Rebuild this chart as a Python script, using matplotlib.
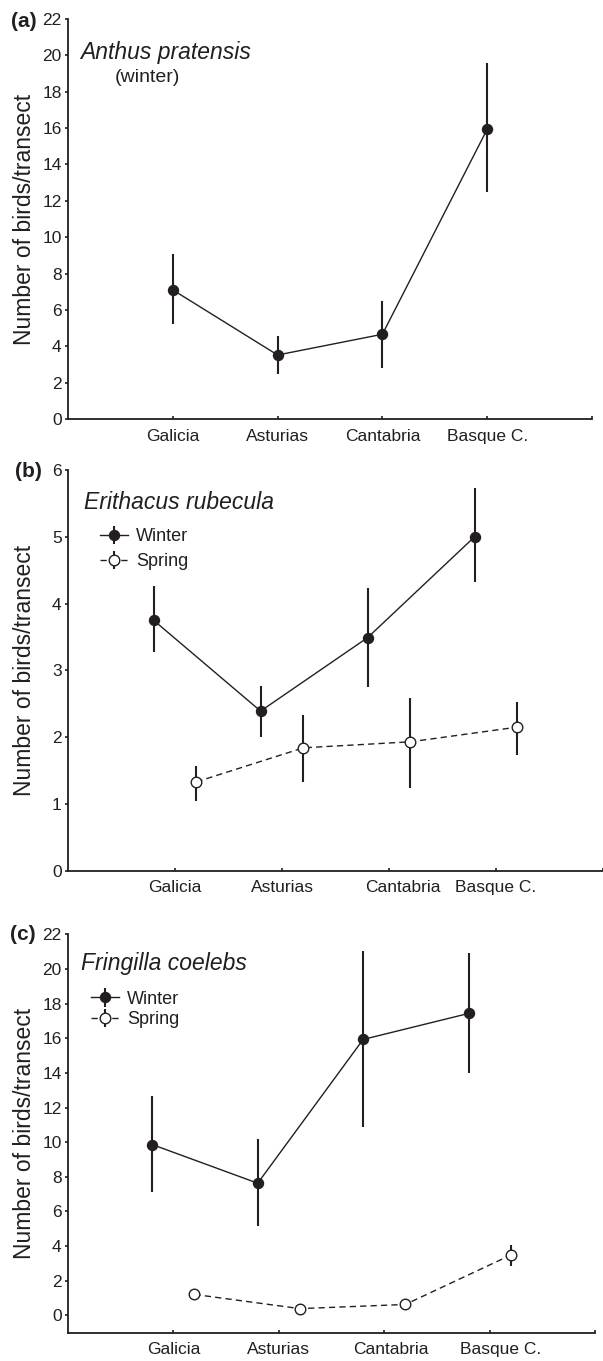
import numpy as np
import matplotlib
matplotlib.use('Agg')
import matplotlib.pyplot as plt
from matplotlib.transforms import ScaledTranslation

plt.rcParams['font.family'] = ['Liberation Sans', 'DejaVu Sans']

INK = '#231f20'
W_PX, H_PX = 603, 1361

regions = ['Galicia', 'Asturias', 'Cantabria', 'Basque C.']

# (a) Anthus pratensis, winter only
anthus_winter = [7.10, 3.52, 4.66, 15.94]
anthus_winter_lo = [5.23, 2.48, 2.83, 12.46]
anthus_winter_hi = [9.08, 4.57, 6.50, 19.60]

# (b) Erithacus rubecula
erithacus_winter = [3.75, 2.39, 3.49, 5.00]
erithacus_winter_lo = [3.27, 2.00, 2.75, 4.33]
erithacus_winter_hi = [4.26, 2.77, 4.24, 5.73]
erithacus_spring = [1.33, 1.84, 1.93, 2.15]
erithacus_spring_lo = [1.05, 1.33, 1.24, 1.73]
erithacus_spring_hi = [1.57, 2.33, 2.58, 2.52]

# (c) Fringilla coelebs
fringilla_winter = [9.86, 7.63, 15.93, 17.43]
fringilla_winter_lo = [7.11, 5.15, 10.87, 13.99]
fringilla_winter_hi = [12.68, 10.18, 21.06, 20.90]
fringilla_spring = [1.21, 0.39, 0.63, 3.48]
fringilla_spring_lo = [1.05, 0.25, 0.48, 2.84]
fringilla_spring_hi = [1.37, 0.53, 0.78, 4.09]


def add_axes_px(fig, left, top, right, bottom):
    """Place an axes from pixel edges of the 603x1361 canvas."""
    return fig.add_axes([left / W_PX, 1 - bottom / H_PX,
                         (right - left) / W_PX, (bottom - top) / H_PX])


def draw_series(ax, xs, mean, lo, hi, filled, label):
    mean = np.asarray(mean)
    err = [mean - np.asarray(lo), np.asarray(hi) - mean]
    ls = '-' if filled else (0, (4.5, 3))
    return ax.errorbar(xs, mean, yerr=err, marker='o', linestyle=ls,
                       color=INK, lw=1.0, elinewidth=1.5, capsize=0,
                       ms=7.2 if filled else 7.6,
                       mfc=INK if filled else 'white', mec=INK, mew=1.0,
                       label=label)


def style_axes(ax, ylim, yticks, xmax, label_dx):
    ax.set_xlim(0, xmax)
    ax.set_ylim(*ylim)
    ax.set_yticks(yticks)
    ax.set_xticks([1, 2, 3, 4, 5])
    ax.set_xticklabels(regions + [''])
    for side in ['top', 'right']:
        ax.spines[side].set_visible(False)
    for side in ['left', 'bottom']:
        ax.spines[side].set_linewidth(1.3)
        ax.spines[side].set_color(INK)
    ax.tick_params(axis='y', direction='out', length=2.5, width=1.2,
                   pad=2, labelsize=12.5, colors=INK)
    ax.tick_params(axis='x', direction='in', length=2.5, width=1.2,
                   pad=7, labelsize=12.5, colors=INK)
    ax.patch.set_visible(False)
    # a few region names sit slightly right of their tick in the original
    labels = ax.get_xticklabels()
    for i, dx in label_dx.items():
        labels[i].set_transform(labels[i].get_transform()
                                + ScaledTranslation(dx / 100, 0, fig.dpi_scale_trans))


def add_ylabel(ax, axis_left_px, axis_width_px):
    ax.set_ylabel('Number of birds/transect', fontsize=16.5, color=INK)
    ax.yaxis.set_label_coords((36 - axis_left_px) / axis_width_px, 0.5)


def add_legend(ax, handles, anchor, spacing):
    ax.legend(handles=handles, loc='center left', bbox_to_anchor=anchor,
              frameon=False, borderpad=0, borderaxespad=0, handlelength=1.55,
              handletextpad=0.45, labelspacing=spacing, fontsize=13,
              labelcolor=INK)


fig = plt.figure(figsize=(W_PX / 100, H_PX / 100), dpi=100)

x = np.arange(1, 5)
shift = 0.2

# ---- panel (a)
ax_a = add_axes_px(fig, 68, 19, 592, 419)
draw_series(ax_a, x, anthus_winter, anthus_winter_lo, anthus_winter_hi, True, 'Winter')
style_axes(ax_a, (0, 22), np.arange(0, 23, 2), 5, {})
add_ylabel(ax_a, 68, 524)
ax_a.text(0.023, 0.9175, 'Anthus pratensis', style='italic', fontsize=16.5,
          va='center', color=INK, transform=ax_a.transAxes)
ax_a.text(0.089, 0.855, '(winter)', fontsize=14, va='center', color=INK,
          transform=ax_a.transAxes)

# ---- panel (b)
ax_b = add_axes_px(fig, 68, 470, 603, 870.7)
hw = draw_series(ax_b, x - shift, erithacus_winter, erithacus_winter_lo,
                 erithacus_winter_hi, True, 'Winter')
hs = draw_series(ax_b, x + shift, erithacus_spring, erithacus_spring_lo,
                 erithacus_spring_hi, False, 'Spring')
style_axes(ax_b, (0, 6), np.arange(0, 7, 1), 535 / 107.6, {2: 14})
add_ylabel(ax_b, 68, 535)
ax_b.text(0.030, 0.918, 'Erithacus rubecula', style='italic', fontsize=16.5,
          va='center', color=INK, transform=ax_b.transAxes)
add_legend(ax_b, [hw, hs], (0.060, 0.802), 0.45)

# ---- panel (c)
ax_c = add_axes_px(fig, 68, 934.3, 595, 1332.7)
hw = draw_series(ax_c, x - shift, fringilla_winter, fringilla_winter_lo,
                 fringilla_winter_hi, True, 'Winter')
hs = draw_series(ax_c, x + shift, fringilla_spring, fringilla_spring_lo,
                 fringilla_spring_hi, False, 'Spring')
style_axes(ax_c, (-1, 22), np.arange(0, 23, 2), 5, {2: 7, 3: 11})
add_ylabel(ax_c, 68, 527)
ax_c.text(0.0256, 0.9265, 'Fringilla coelebs', style='italic', fontsize=16.5,
          va='center', color=INK, transform=ax_c.transAxes)
add_legend(ax_c, [hw, hs], (0.043, 0.811), 0.2)

# panel letters
for letter, lx, ly in [('(a)', 11, 21.7), ('(b)', 15, 471.7), ('(c)', 10, 934)]:
    fig.text(lx / W_PX, 1 - ly / H_PX, letter, fontsize=15, fontweight='bold',
             va='center', color=INK)

fig.savefig('out.png', dpi=100)
